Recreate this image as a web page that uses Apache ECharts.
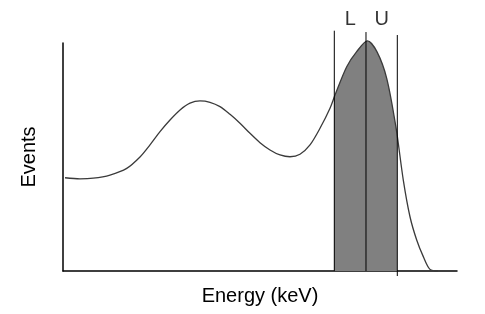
<!DOCTYPE html>
<html>
<head>
<meta charset="utf-8">
<script src="https://cdn.jsdelivr.net/npm/echarts@6/dist/echarts.min.js"></script>
<style>
html,body{margin:0;padding:0;background:#fff;}
#c{width:485px;height:314px;}
</style>
</head>
<body>
<div id="c"></div>
<script>
// Spectrum curve (energy, events) in arbitrary units
var energy = [0.51, 4.31, 7.69, 11.93, 16.17, 19.54, 22.08, 24.62, 27.16, 29.70, 32.23, 34.77, 37.31, 39.85, 42.39, 44.92, 47.46, 50.00, 52.54, 55.08, 57.61, 60.15, 62.69, 65.23, 67.77, 69.04, 72.01, 74.54, 77.28, 79.70, 82.16, 84.52, 86.37, 88.07, 89.77, 91.45, 93.15, 95.18];
var events = [40.9, 40.4, 40.7, 42.1, 45.0, 50.0, 55.3, 61.1, 66.2, 70.6, 73.6, 74.6, 74.0, 72.1, 68.7, 64.8, 60.4, 56.3, 53.1, 50.9, 50.1, 51.2, 55.3, 62.6, 71.4, 77.2, 89.6, 96.2, 100.9, 96.1, 84.5, 62.9, 39.9, 23.8, 13.6, 6.3, 0.7, 0];
// Window boundaries (lower L, peak, upper U)
var boundX = [68.86, 76.9, 84.85];
var boundTop = [105.4, 104.8, 103.5];
var boundBottom = [0, 0, -2.2];
// Labels
var labelNames = ['L', 'U'];
var labelX = [72.9, 80.9];
var labelY = 110.4;

var curve = energy.map(function (x, i) { return [x, events[i]]; });

var vlines = boundX.map(function (x, i) {
  return {
    type: 'line', data: [[x, boundBottom[i]], [x, boundTop[i]]],
    symbol: 'none', clip: false, silent: true,
    lineStyle: { color: '#000', width: 1 }, z: 4
  };
});

var chart = echarts.init(document.getElementById('c'));
chart.setOption({
  animation: false,
  grid: { left: 63, right: 28, top: 43, bottom: 43 },
  visualMap: {
    type: 'piecewise', show: false, dimension: 0, seriesIndex: 0,
    pieces: [{ gte: boundX[0], lte: boundX[2], color: '#808080' }],
    outOfRange: { color: 'rgba(128,128,128,0)' }
  },
  xAxis: {
    type: 'value', min: 0, max: 100,
    name: 'Energy (keV)', nameLocation: 'middle', nameGap: 15,
    nameTextStyle: { fontFamily: 'Liberation Sans', fontSize: 20, color: '#000' },
    axisLine: { lineStyle: { color: '#000', width: 1.5 } },
    axisTick: { show: false }, axisLabel: { show: false }, splitLine: { show: false }
  },
  yAxis: {
    type: 'value', min: 0, max: 100,
    name: 'Events', nameLocation: 'middle', nameGap: 24,
    nameTextStyle: { fontFamily: 'Liberation Sans', fontSize: 20, color: '#000' },
    axisLine: { show: true, lineStyle: { color: '#000', width: 1.5 } },
    axisTick: { show: false }, axisLabel: { show: false }, splitLine: { show: false }
  },
  series: [
    {
      type: 'line', data: curve, smooth: 0.3, symbol: 'none', clip: false, silent: true,
      lineStyle: { width: 0, opacity: 0 }, areaStyle: { opacity: 1 }, z: 2
    },
    {
      type: 'line', data: curve, smooth: 0.3, symbol: 'none', clip: false,
      lineStyle: { color: '#3a3a3a', width: 1.3 }, itemStyle: { color: '#3a3a3a' }, z: 3
    }
  ].concat(vlines).concat([
    {
      type: 'scatter', clip: false, symbolSize: 0, silent: true,
      data: labelX.map(function (x, i) { return { value: [x, labelY], name: labelNames[i] }; }),
      label: {
        show: true, position: 'inside', formatter: '{b}',
        fontFamily: 'Liberation Sans', fontSize: 20, color: '#000'
      }
    }
  ])
});
</script>
</body>
</html>
